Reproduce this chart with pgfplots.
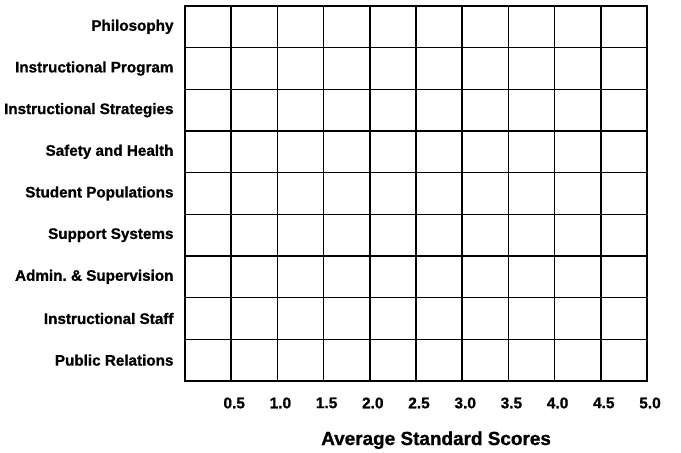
\documentclass[border=0pt]{standalone}
\usepackage{fontspec}
\setmainfont{Liberation Sans}[BoldFeatures={FakeBold=1}]
\usepackage{pgfplots}
\pgfplotsset{compat=1.18}
\begin{document}
\begin{tikzpicture}[x=1bp,y=1bp]
\path (0,0) rectangle (681,450);
\begin{axis}[
  at={(185bp,69bp)}, anchor=south west,
  scale only axis, width=462bp, height=375bp,
  xmin=0, xmax=5, ymin=0, ymax=9,
  xtick={0.5,1,1.5,2,2.5,3,3.5,4,4.5,5},
  xticklabels={0.5,1.0,1.5,2.0,2.5,3.0,3.5,4.0,4.5,5.0},
  ytick={0.5,1.5,2.5,3.5,4.5,5.5,6.5,7.5,8.5},
  yticklabels={Public Relations,Instructional Staff,Admin.\ \& Supervision,Support Systems,Student Populations,Safety and Health,Instructional Strategies,Instructional Program,Philosophy},
  minor ytick={1,2,3,4,5,6,7,8},
  xmajorgrids=true, ymajorgrids=false, yminorgrids=true,
  major grid style={black, line width=1.6pt},
  minor grid style={black, line width=1.6pt},
  axis line style={black, line width=1.7pt},
  tick style={draw=none},
  major tick length=0pt, minor tick length=0pt,
  /pgf/number format/assume math mode=true,
  xticklabel style={font=\fontsize{15.5}{17}\selectfont\bfseries, anchor=north, yshift=-13bp, xshift=3bp},
  yticklabel style={font=\fontsize{15.3}{17}\selectfont\bfseries, anchor=east, xshift=-8bp},
  xlabel={Average Standard Scores},
  every axis x label/.style={at={(axis description cs:0.5435,0)}, anchor=base, yshift=-64bp, font=\fontsize{19}{22}\selectfont\bfseries},
]
\end{axis}
\end{tikzpicture}
\end{document}
